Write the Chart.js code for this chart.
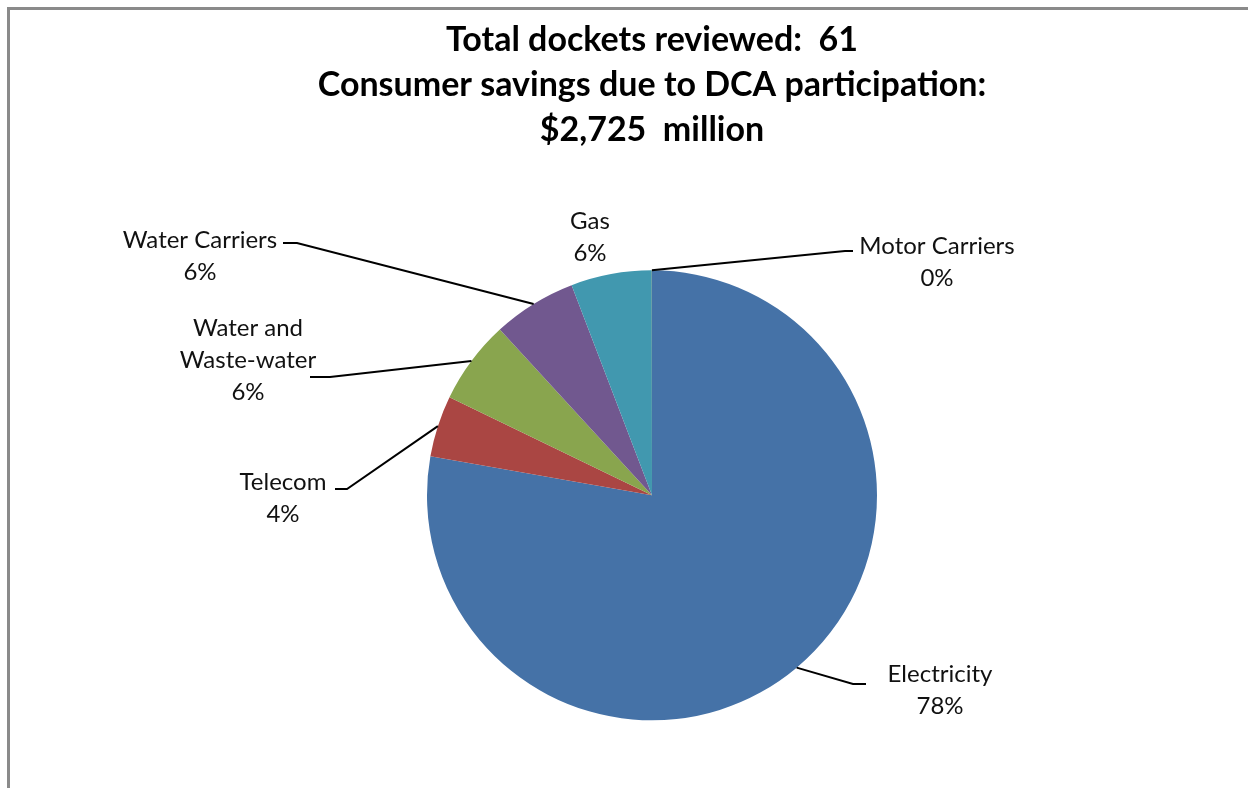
<!DOCTYPE html>
<html>
<head>
<meta charset="utf-8">
<script src="https://cdn.jsdelivr.net/npm/chart.js@4"></script>
<style>
  html, body { margin: 0; padding: 0; background: #fff; }
  #wrap { position: relative; width: 1248px; height: 788px; overflow: hidden; }
  #frame { position: absolute; left: 7px; top: 7px; width: 1260px; height: 800px;
           border-top: 3px solid #8a8a8a; border-left: 3px solid #8a8a8a; box-sizing: border-box; }
  canvas { position: absolute; left: 0; top: 0; }
</style>
</head>
<body>
<div id="wrap">
  <div id="frame"></div>
  <canvas id="c" width="1248" height="788"></canvas>
</div>
<script>
const titleLines = ['Total dockets reviewed:  61', 'Consumer savings due to DCA participation:', '$2,725  million'];
const categories = ['Electricity', 'Telecom', 'Water and Waste-water', 'Water Carriers', 'Gas', 'Motor Carriers'];
const labelLines = [['Electricity'], ['Telecom'], ['Water and', 'Waste-water'], ['Water Carriers'], ['Gas'], ['Motor Carriers']];
const shares = [77.7, 4.4, 6.0, 6.0, 5.8, 0.01];
const colors = ['#4572A7', '#AA4643', '#89A54E', '#71588F', '#4198AF', '#DB843D'];

// label layout: text center x, first line center y, leader elbow (x,y) and end x (null = no leader)
const labelLayout = [
  { x: 940, y: 674, elbow: [853, 684], end: 866 },
  { x: 283, y: 482, elbow: [347, 489], end: 335 },
  { x: 248, y: 328, elbow: [330, 377], end: 310 },
  { x: 200, y: 240, elbow: [297, 243], end: 283 },
  { x: 590, y: 221, elbow: null, end: null },
  { x: 937, y: 246, elbow: [845, 251], end: 853 }
];

const labelPlugin = {
  id: 'pieLabels',
  afterDatasetsDraw(chart) {
    const ctx = chart.ctx;
    const meta = chart.getDatasetMeta(0);
    const data = chart.data.datasets[0].data;
    const total = data.reduce((a, b) => a + b, 0);
    ctx.save();
    meta.data.forEach((arc, i) => {
      const L = labelLayout[i];
      const mid = (arc.startAngle + arc.endAngle) / 2;
      const ax = arc.x + Math.cos(mid) * arc.outerRadius;
      const ay = arc.y + Math.sin(mid) * arc.outerRadius;
      if (L.elbow) {
        ctx.beginPath();
        ctx.strokeStyle = '#000';
        ctx.lineWidth = 2;
        ctx.moveTo(ax, ay);
        ctx.lineTo(L.elbow[0], L.elbow[1]);
        ctx.lineTo(L.end, L.elbow[1]);
        ctx.stroke();
      }
      const lines = labelLines[i].concat([Math.round(data[i] / total * 100) + '%']);
      ctx.fillStyle = '#111';
      ctx.font = '24px Lato, "Liberation Sans", sans-serif';
      ctx.textAlign = 'center';
      ctx.textBaseline = 'middle';
      lines.forEach((t, k) => ctx.fillText(t, L.x, L.y + k * 32));
    });
    ctx.restore();
  }
};

new Chart(document.getElementById('c'), {
  type: 'pie',
  data: {
    labels: categories,
    datasets: [{
      data: shares,
      backgroundColor: colors,
      borderWidth: 0,
      radius: 225
    }]
  },
  options: {
    responsive: false,
    animation: false,
    events: [],
    layout: { padding: { left: 56, right: 0, top: 0, bottom: 0 } },
    plugins: {
      legend: { display: false },
      tooltip: { enabled: false },
      title: {
        display: true,
        text: titleLines,
        color: '#000',
        font: { family: 'Lato, "Liberation Sans", sans-serif', size: 34, weight: 'bold', lineHeight: 1.32 },
        padding: { top: 18, bottom: 50 }
      }
    }
  },
  plugins: [labelPlugin]
});
</script>
</body>
</html>
